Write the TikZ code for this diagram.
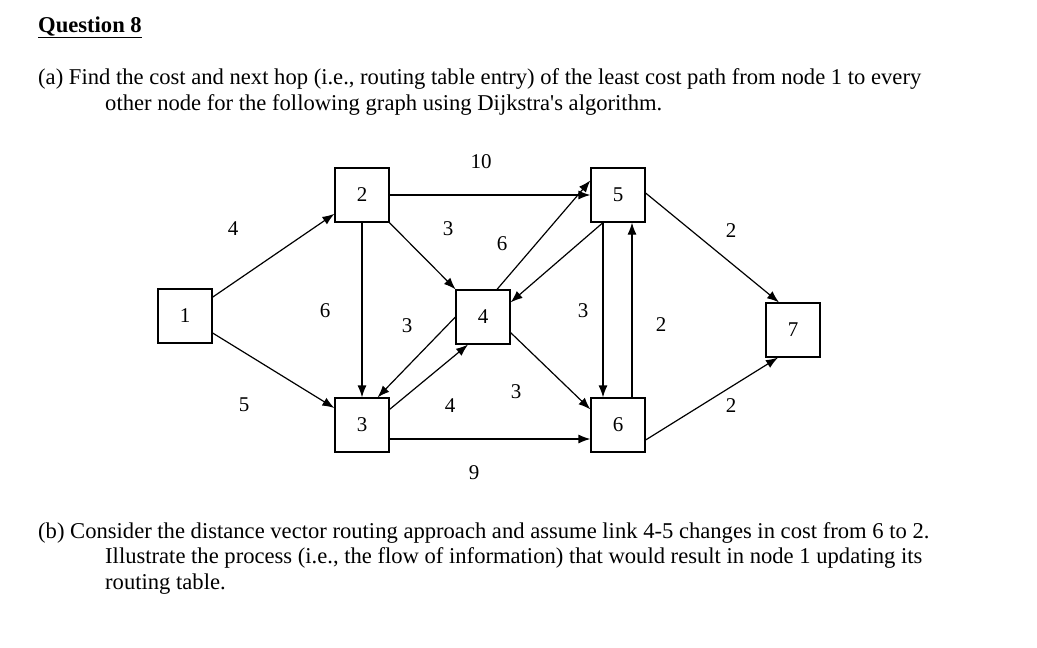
\documentclass[tikz,border=0pt]{standalone}
\usepackage{fontspec}
\setmainfont{Liberation Serif}
\usetikzlibrary{arrows.meta}
\begin{document}
\begin{tikzpicture}[x=1pt,y=-1pt,
  box/.style={draw,line width=1.2pt,minimum size=54pt,inner sep=0pt,font=\fontsize{21}{24}\selectfont},
  edge/.style={line width=1.2pt,-{Latex[length=12pt,width=9pt]}},
  lab/.style={font=\fontsize{21}{24}\selectfont,inner sep=0pt},
  txt/.style={anchor=base west,inner sep=0pt,font=\fontsize{22.6}{26}\selectfont}]
\useasboundingbox (0,0) rectangle (1037,648);
\node[txt] (q) at (38,32) {\underline{\textbf{Question 8}}};
\node[txt] (a1) at (38,84) {(a) Find the cost and next hop (i.e., routing table entry) of the least cost path from node 1 to every};
\node[txt] (a2) at (105,110) {other node for the following graph using Dijkstra\textquotesingle s algorithm.};
\node[txt] (b1) at (38,538) {(b) Consider the distance vector routing approach and assume link 4-5 changes in cost from 6 to 2.};
\node[txt] (b2) at (105,563) {Illustrate the process (i.e., the flow of information) that would result in node 1 updating its};
\node[txt] (b3) at (105,589) {routing table.};

\node[box] (n1) at (185,316) {1};
\node[box] (n2) at (362,195) {2};
\node[box] (n3) at (362,425) {3};
\node[box] (n4) at (483,317) {4};
\node[box] (n5) at (618,195) {5};
\node[box] (n6) at (618,425) {6};
\node[box] (n7) at (793,330) {7};

\draw[edge] (n1) -- (n2);
\draw[edge] (n1) -- (n3);
\draw[edge] (n2) -- (n5);
\draw[edge] (n2) -- (n4);
\draw[edge] (n2) -- (n3);
\draw[edge] (n4.west) -- ([xshift=-12pt]n3.north east);
\draw[edge] ([yshift=-12pt]n3.north east) -- ([xshift=-15pt]n4.south);
\draw[edge] ([xshift=14pt]n4.north) -- ([yshift=-13pt]n5.north west);
\draw[edge] ([xshift=-15pt]n5.south) -- ([yshift=-13pt]n4.north east);
\draw[edge] ([yshift=12pt]n4.south east) -- ([yshift=-12pt]n6.north west);
\draw[edge] ([xshift=-15pt]n5.south) -- ([xshift=-15pt]n6.north);
\draw[edge] ([xshift=14pt]n6.north) -- ([xshift=14pt]n5.south);
\draw[edge] ([yshift=-14pt]n3.east) -- ([yshift=-14pt]n6.west);
\draw[edge] ([yshift=2pt]n5.east) -- ([xshift=-14pt]n7.north);
\draw[edge] ([yshift=-15pt]n6.east) -- ([xshift=-15pt]n7.south);

\node[lab] (l10) at (481,162) {10};
\node[lab] (l12) at (233,229) {4};
\node[lab] (l13) at (244,405) {5};
\node[lab] (l23) at (325,311) {6};
\node[lab] (l43) at (407,326) {3};
\node[lab] (l24) at (448,229) {3};
\node[lab] (l45) at (502,244) {6};
\node[lab] (l34) at (450,406) {4};
\node[lab] (l46) at (516,392) {3};
\node[lab] (l36) at (474,473) {9};
\node[lab] (l56) at (583,311) {3};
\node[lab] (l65) at (661,325) {2};
\node[lab] (l57) at (731,231) {2};
\node[lab] (l67) at (731,406) {2};
\end{tikzpicture}
\end{document}
